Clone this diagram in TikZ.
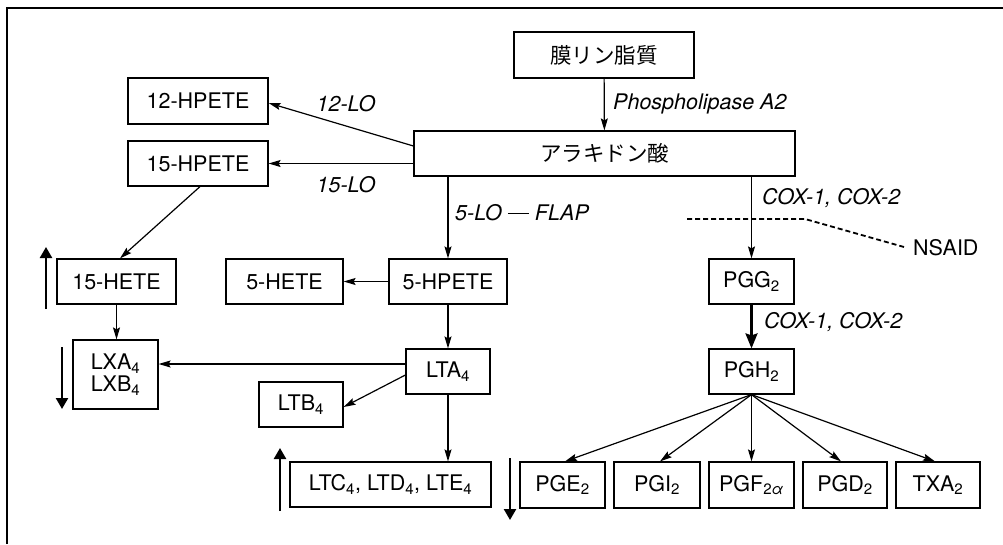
\documentclass[tikz,border=0pt]{standalone}
\usepackage{fontspec}
\setmainfont{TeX Gyre Heros}
\newfontfamily\cjk{Noto Sans CJK JP}
\usetikzlibrary{arrows.meta,calc}
\newcommand{\sbs}[1]{\textsubscript{#1}}
\begin{document}
\begin{tikzpicture}[x=1pt,y=-1pt,
  every node/.style={font=\fontsize{21.5}{25}\selectfont},
  bx/.style={draw,line width=1.2pt,inner sep=0pt,align=center},
  arr/.style={line width=1.2pt,-{Stealth[length=12pt,width=7pt,inset=2pt]}},
  big/.style={line width=2.4pt,-{Triangle[length=11pt,width=12pt]}},
  bigv/.style={line width=2.4pt,-{Stealth[length=15pt,width=12pt,inset=2pt]}},
  lbl/.style={inner sep=0pt,font=\fontsize{21.5}{25}\selectfont\itshape}]
\useasboundingbox (0,0) rectangle (1003,544);
% frame (top and left edges visible)
\draw[line width=1.4pt] (7,544) -- (7,8) -- (1003,8);

% nodes
\node[bx,minimum width=180pt,minimum height=46pt] (memb) at (604,55) {\cjk 膜リン脂質};
\node[bx,minimum width=381pt,minimum height=45pt] (ara) at (604.5,153.5) {\cjk アラキドン酸};
\node[bx,minimum width=140pt,minimum height=46pt] (h12) at (198,101) {12-HPETE};
\node[bx,minimum width=140pt,minimum height=45pt] (h15) at (198,163.5) {15-HPETE};
\node[bx,minimum width=119pt,minimum height=45pt] (hete15) at (116.5,281.5) {15-HETE};
\node[bx,minimum width=117pt,minimum height=45pt] (hete5) at (284.5,281.5) {5-HETE};
\node[bx,minimum width=118pt,minimum height=45pt] (hpete5) at (448,281.5) {5-HPETE};
\node[bx,minimum width=85pt,minimum height=69pt] (lx) at (115.5,374.5) {LXA\sbs{4}\\[-3pt]LXB\sbs{4}};
\node[bx,minimum width=84pt,minimum height=45pt] (lta) at (448,371.5) {LTA\sbs{4}};
\node[bx,minimum width=84pt,minimum height=45pt] (ltb) at (301,404.5) {LTB\sbs{4}};
\node[bx,minimum width=201pt,minimum height=45pt] (ltc) at (390.5,484.5) {LTC\sbs{4}, LTD\sbs{4}, LTE\sbs{4}};
\node[bx,minimum width=85pt,minimum height=45pt] (pgg) at (751.5,281.5) {PGG\sbs{2}};
\node[bx,minimum width=85pt,minimum height=45pt] (pgh) at (751.5,371.5) {PGH\sbs{2}};
\node[bx,minimum width=85pt,minimum height=46pt] (pge) at (562.5,485) {PGE\sbs{2}};
\node[bx,minimum width=86pt,minimum height=46pt] (pgi) at (657,485) {PGI\sbs{2}};
\node[bx,minimum width=85pt,minimum height=46pt] (pgf) at (751.5,485) {PGF\sbs{2\textit{α}}};
\node[bx,minimum width=84pt,minimum height=46pt] (pgd) at (845,485) {PGD\sbs{2}};
\node[bx,minimum width=84pt,minimum height=46pt] (txa) at (938,485) {TXA\sbs{2}};
\node[inner sep=0pt,anchor=west] (nsaid) at (913,248) {NSAID};

% enzyme labels
\node[lbl,anchor=west] (lpla) at (613,104) {Phospholipase A2};
\node[lbl] (l12) at (346,104) {12-LO};
\node[lbl] (l15) at (346,185) {15-LO};
\node[lbl,anchor=west] (l5) at (455,213) {5-LO \rule[0.3em]{21pt}{1.4pt} FLAP};
\node[lbl,anchor=west] (lcox1) at (762,198) {COX-1, COX-2};
\node[lbl,anchor=west] (lcox2) at (764,322) {COX-1, COX-2};

% connectors
\draw[arr] (memb) -- (ara);
\draw[arr] ([yshift=7.5pt]ara.west) -- ([yshift=-2pt]h12.east);
\draw[arr] (ara.west |- h15) -- (h15.east);
\draw[arr] ([xshift=2pt]h15.south) -- ([xshift=3.5pt]hete15.north);
\draw[arr] (ara.south -| hpete5) -- (hpete5.north);
\draw[arr] (hpete5.west) -- (hete5.east);
\draw[arr] (hete15.south) -- (hete15.south |- lx.north);
\draw[arr] (hpete5.south) -- (lta.north);
\draw[arr] ([yshift=7.5pt]lta.west) coordinate (a1) -- (a1 -| lx.east);
\draw[arr] ([yshift=-3.5pt]lta.west) -- ([yshift=-2.5pt]ltb.east);
\draw[arr] (lta.south) -- (lta.south |- ltc.north);
\draw[arr] (ara.south -| pgg) -- (pgg.north);
\draw[bigv] (pgg.south) -- (pgh.north);
\draw[arr] (pgh.south) -- ([xshift=2.5pt]pge.north);
\draw[arr] (pgh.south) -- ([xshift=3pt]pgi.north);
\draw[arr] (pgh.south) -- (pgf.north);
\draw[arr] (pgh.south) -- ([xshift=-4pt]pgd.north);
\draw[arr] (pgh.south) -- ([xshift=-3pt]txa.north);

% NSAID inhibition line
\coordinate (d1) at (687,219);
\coordinate (d2) at (805,219);
\draw[line width=1.8pt,dash pattern=on 5pt off 3pt] (d1) -- (d2) -- ([xshift=-9pt,yshift=1pt]nsaid.west);

% up/down regulation arrows
\coordinate (u1a) at (46,309); \coordinate (u1b) at (46,247);
\coordinate (d3a) at (62,347); \coordinate (d3b) at (62,409);
\coordinate (u2a) at (280,511); \coordinate (u2b) at (280,448);
\coordinate (d4a) at (510,458); \coordinate (d4b) at (510,520);
\draw[big] (u1a) -- (u1b);
\draw[big] (d3a) -- (d3b);
\draw[big] (u2a) -- (u2b);
\draw[big] (d4a) -- (d4b);
\end{tikzpicture}
\end{document}
